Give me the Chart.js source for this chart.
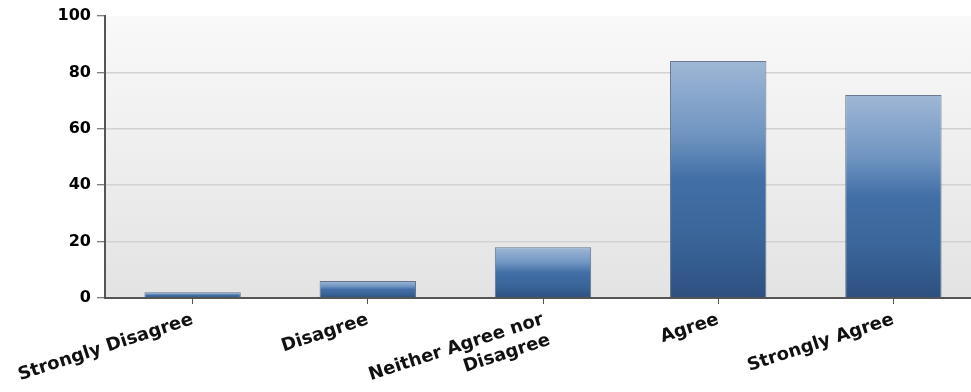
<!DOCTYPE html>
<html>
<head>
<meta charset="utf-8">
<script src="https://cdn.jsdelivr.net/npm/chart.js@4"></script>
<style>
  html, body { margin: 0; padding: 0; background: #fff; overflow: hidden; }
  #wrap { width: 971px; height: 392px; overflow: hidden; }
</style>
</head>
<body>
<div id="wrap"><canvas id="c" width="981" height="392"></canvas></div>
<script>
const categories = ["Strongly Disagree", "Disagree", ["Neither Agree nor", "Disagree"], "Agree", "Strongly Agree"];
const responses = [2, 6, 18, 84, 72];
const yTicks = [0, 20, 40, 60, 80, 100];

const plotBg = {
  id: 'plotBg',
  beforeDraw(chart) {
    const { ctx, chartArea: a } = chart;
    const g = ctx.createLinearGradient(0, a.top, 0, a.bottom);
    g.addColorStop(0, '#f9f9f9');
    g.addColorStop(1, '#e3e3e3');
    ctx.save();
    ctx.fillStyle = g;
    ctx.fillRect(a.left, a.top, a.right - a.left, a.bottom - a.top);
    ctx.restore();
  }
};

function barGradient(context) {
  const chart = context.chart;
  if (!chart.chartArea || context.parsed === undefined) return '#3f6ca3';
  const y = chart.scales.y;
  const top = y.getPixelForValue(context.parsed.y);
  const bottom = y.getPixelForValue(0);
  if (!isFinite(top) || !isFinite(bottom) || bottom - top < 1) return '#3f6ca3';
  const g = chart.ctx.createLinearGradient(0, top, 0, bottom);
  g.addColorStop(0, '#9fb7d5');
  g.addColorStop(0.3, '#7196c2');
  g.addColorStop(0.5, '#426fa6');
  g.addColorStop(0.75, '#3a6599');
  g.addColorStop(1, '#2d5080');
  return g;
}

new Chart(document.getElementById('c'), {
  type: 'bar',
  data: {
    labels: categories,
    datasets: [{
      data: responses,
      backgroundColor: barGradient,
      borderColor: 'rgba(30,55,90,0.65)',
      borderWidth: 1,
      borderSkipped: 'bottom',
      barPercentage: 0.55,
      categoryPercentage: 1.0
    }]
  },
  options: {
    responsive: false,
    animation: false,
    layout: { padding: { top: 16, left: 0, right: 0, bottom: 0 } },
    plugins: { legend: { display: false }, tooltip: { enabled: false } },
    scales: {
      x: {
        offset: true,
        grid: { display: true, drawOnChartArea: false, offset: false, tickLength: 6, tickColor: '#555', tickWidth: 1 },
        border: { display: true, color: '#555', width: 2 },
        ticks: {
          color: '#111',
          font: { family: '"DejaVu Sans", Verdana, sans-serif', size: 18, weight: 'bold', lineHeight: 1.2 },
          minRotation: 18,
          maxRotation: 18,
          autoSkip: false,
          padding: 5
        },
        afterFit(scale) { scale.height = 94; }
      },
      y: {
        min: 0,
        max: 100,
        afterBuildTicks(scale) { scale.ticks = yTicks.map(v => ({ value: v })); },
        grid: {
          color: (ctx) => (ctx.tick && (ctx.tick.value === 100 || ctx.tick.value === 0)) ? 'rgba(0,0,0,0)' : '#d2d2d2',
          lineWidth: 1.5,
          tickLength: 8,
          tickColor: '#555',
          tickWidth: 1
        },
        border: { display: true, color: '#555', width: 2 },
        ticks: {
          color: '#000',
          font: { family: '"DejaVu Sans", Verdana, sans-serif', size: 16, weight: 'bold' },
          padding: 6
        },
        afterFit(scale) { scale.width = 105; }
      }
    }
  },
  plugins: [plotBg]
});
</script>
</body>
</html>
